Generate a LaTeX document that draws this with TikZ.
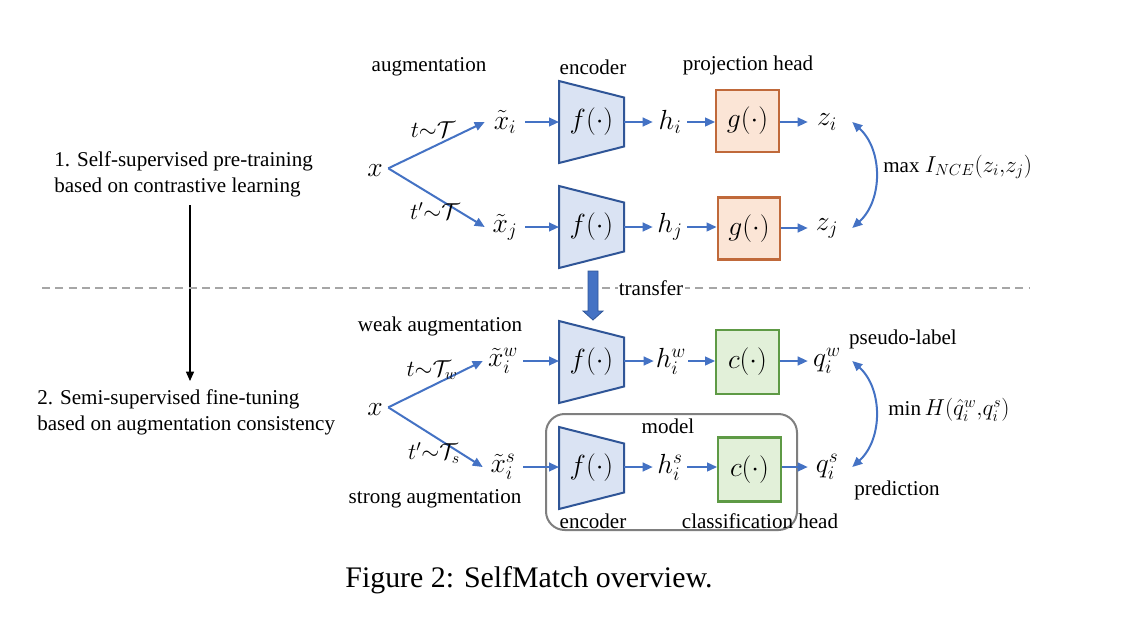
\documentclass[tikz,border=0pt]{standalone}
\usepackage{fontspec}
\setmainfont{Liberation Serif}
\usetikzlibrary{arrows.meta}
\definecolor{arrowblue}{HTML}{4472C4}
\definecolor{encfill}{HTML}{DAE3F3}
\definecolor{encdraw}{HTML}{2F5597}
\definecolor{gfill}{HTML}{FBE5D6}
\definecolor{gdraw}{HTML}{C0693A}
\definecolor{cfill}{HTML}{E2F0D9}
\definecolor{cdraw}{HTML}{5E9A45}
\definecolor{modelgray}{HTML}{7F7F7F}
\definecolor{dashgray}{HTML}{A6A6A6}
\newcommand{\mathsz}{\fontsize{19.5}{23}\selectfont}
\newcommand{\encshape}[3]{%
  \draw[encst] (#2-32.5,#3-41) -- (#2+32.5,#3-24.5) -- (#2+32.5,#3+24.5) -- (#2-32.5,#3+41) -- cycle;
  \node[inner sep=0pt, font=\mathsz] (#1) at (#2,#3) {$f(\cdot)$};
  \coordinate (#1w) at (#2-32.5,#3);
  \coordinate (#1e) at (#2+32.5,#3);}
\begin{document}
\begin{tikzpicture}[x=0.75pt,y=-0.75pt,
  font=\fontsize{15.8}{19.5}\selectfont,
  arr/.style={draw=arrowblue, line width=1.5pt, -{Triangle[length=7.5pt,width=6.5pt]}},
  darr/.style={draw=arrowblue, line width=1.5pt, {Triangle[length=7.5pt,width=6.5pt]}-{Triangle[length=7.5pt,width=6.5pt]}},
  encst/.style={draw=encdraw, fill=encfill, line width=1.5pt},
  gbox/.style={draw=gdraw, fill=gfill, line width=1.6pt, minimum width=47pt, minimum height=46.5pt, inner sep=0pt, font=\mathsz},
  cbox/.style={draw=cdraw, fill=cfill, line width=1.6pt, minimum width=47pt, minimum height=48pt, inner sep=0pt, font=\mathsz},
  lbl/.style={inner sep=0pt},
  tlbl/.style={inner sep=0pt, font=\fontsize{16.5}{20}\selectfont},
  xnode/.style={inner sep=0pt, minimum width=19.5pt, font=\mathsz},
  xtnode/.style={inner sep=0pt, minimum width=30pt, font=\mathsz},
  hnode/.style={inner sep=0pt, minimum width=25.5pt, font=\mathsz},
  znode/.style={inner sep=0pt, minimum width=28.5pt, font=\mathsz},
  side/.style={inner sep=0pt, align=left, anchor=west}]
\useasboundingbox (0,0) rectangle (1123,618);
\fill[white] (0,0) rectangle (1123,618);

% left column
\node[side] (s1) at (54,174.5) {1. Self-supervised pre-training\\based on contrastive learning};
\node[side] (s2) at (37,412.5) {2. Semi-supervised fine-tuning\\based on augmentation consistency};
\coordinate (vtop) at (190,205);
\coordinate (vbot) at (190,381);
\draw[line width=1pt, -{Triangle[length=7pt,width=6pt]}] (vtop) -- (vbot);

% dashed separator
\coordinate (dl) at (42,288);
\coordinate (dr) at (1030,288);
\draw[dashgray, line width=1.2pt, dash pattern=on 6pt off 4pt] (dl) -- (dr);

% ---------- top part ----------
\node[lbl] (laug) at (429,67) {augmentation};
\node[lbl] (lenc) at (593,67) {encoder};
\node[lbl] (lproj) at (748,65) {projection head};

\node[xnode] (x1) at (375,171) {$x$};
\node[xtnode] (xti) at (505,122) {$\tilde{x}_i$};
\node[xtnode] (xtj) at (505,227) {$\tilde{x}_j$};
\draw[arr] ([yshift=2pt]x1.east) -- (xti.west);
\draw[arr] ([yshift=2pt]x1.east) -- (xtj.west);
\node[tlbl] (t1) at (433,130) {$t{\sim}\mathcal{T}$};
\node[tlbl] (t2) at (435,211) {$t'{\sim}\mathcal{T}$};

\encshape{e1}{591.5}{122}
\encshape{e2}{591.5}{227}
\draw[arr] (xti.east) -- (e1w);
\draw[arr] (xtj.east) -- (e2w);

\node[hnode] (hi) at (670,122) {$h_i$};
\node[hnode] (hj) at (670,227) {$h_j$};
\draw[arr] (e1e) -- (hi.west);
\draw[arr] (e2e) -- (hj.west);

\node[gbox] (g1) at (747.5,121) {$g(\cdot)$};
\node[gbox] (g2) at (749,228.5) {$g(\cdot)$};
\draw[arr] (hi.east) -- (g1.west |- hi);
\draw[arr] (hj.east) -- (g2.west |- hj);

\node[znode] (zi) at (827,122) {$z_i$};
\node[znode] (zj) at (827,228) {$z_j$};
\draw[arr] (g1.east |- zi) -- (zi.west);
\draw[arr] (g2.east |- zj) -- (zj.west);

\draw[darr] ([xshift=4.5pt]zi.east) to[bend left=48] ([xshift=4.5pt]zj.east);
\node[lbl, anchor=west] (maxl) at (883,167) {max {\fontsize{16.5}{20}\selectfont$I_{NCE}(z_i{,}z_j)$}};

% transfer arrow
\fill[arrowblue, draw=encdraw, line width=0.6pt] (588,271) -- (598,271) -- (598,311) -- (603,311) -- (593,320) -- (583,311) -- (588,311) -- cycle;
\node[lbl, fill=white, inner sep=1pt] (ltransfer) at (651,288) {transfer};

% ---------- bottom part ----------
\draw[modelgray, line width=1.5pt, rounded corners=14pt] (546,414) rectangle (797,530);
\node[lbl] (lmodel) at (668,426) {model};

\node[lbl] (lweak) at (440,326) {weak augmentation};
\node[lbl] (lstrong) at (435,499) {strong augmentation};

\node[xnode] (x2) at (375,410) {$x$};
\node[xtnode] (xtw) at (503,361) {$\tilde{x}_i^w$};
\node[xtnode] (xts) at (503,467) {$\tilde{x}_i^s$};
\draw[arr] ([yshift=2pt]x2.east) -- (xtw.west);
\draw[arr] ([yshift=2pt]x2.east) -- (xts.west);
\node[tlbl] (t3) at (432,370) {$t{\sim}\mathcal{T}_w$};
\node[tlbl] (t4) at (434,453) {$t'{\sim}\mathcal{T}_s$};

\encshape{e3}{591.5}{362}
\encshape{e4}{591.5}{468}
\draw[arr] (xtw.east) -- (e3w |- xtw);
\draw[arr] (xts.east) -- (e4w |- xts);

\node[hnode] (hw) at (671,361) {$h_i^w$};
\node[hnode] (hs) at (670,467) {$h_i^s$};
\draw[arr] (e3e |- hw) -- (hw.west);
\draw[arr] (e4e |- hs) -- (hs.west);

\node[cbox] (c1) at (747.5,362) {$c(\cdot)$};
\node[cbox] (c2) at (749.5,469.5) {$c(\cdot)$};
\draw[arr] (hw.east) -- (c1.west |- hw);
\draw[arr] (hs.east) -- (c2.west |- hs);

\node[znode] (qw) at (827,361) {$q_i^w$};
\node[znode] (qs) at (827,467) {$q_i^s$};
\draw[arr] (c1.east |- qw) -- (qw.west);
\draw[arr] (c2.east |- qs) -- (qs.west);

\draw[darr] ([xshift=4.5pt]qw.east) to[bend left=48] ([xshift=4.5pt]qs.east);
\node[lbl, anchor=west] (minl) at (888,410) {min\,{\fontsize{16.5}{20}\selectfont$H(\hat{q}_i^w{,}q_i^s)$}};
\node[lbl] (lpseudo) at (903,339) {pseudo-label};
\node[lbl] (lpred) at (897,490) {prediction};

\node[lbl] (lenc2) at (593,521) {encoder};
\node[lbl] (lcls) at (760,521) {classification head};

% caption
\node[lbl, font=\fontsize{22.4}{27}\selectfont] (cap) at (529,580) {Figure 2: SelfMatch overview.};
\end{tikzpicture}
\end{document}
